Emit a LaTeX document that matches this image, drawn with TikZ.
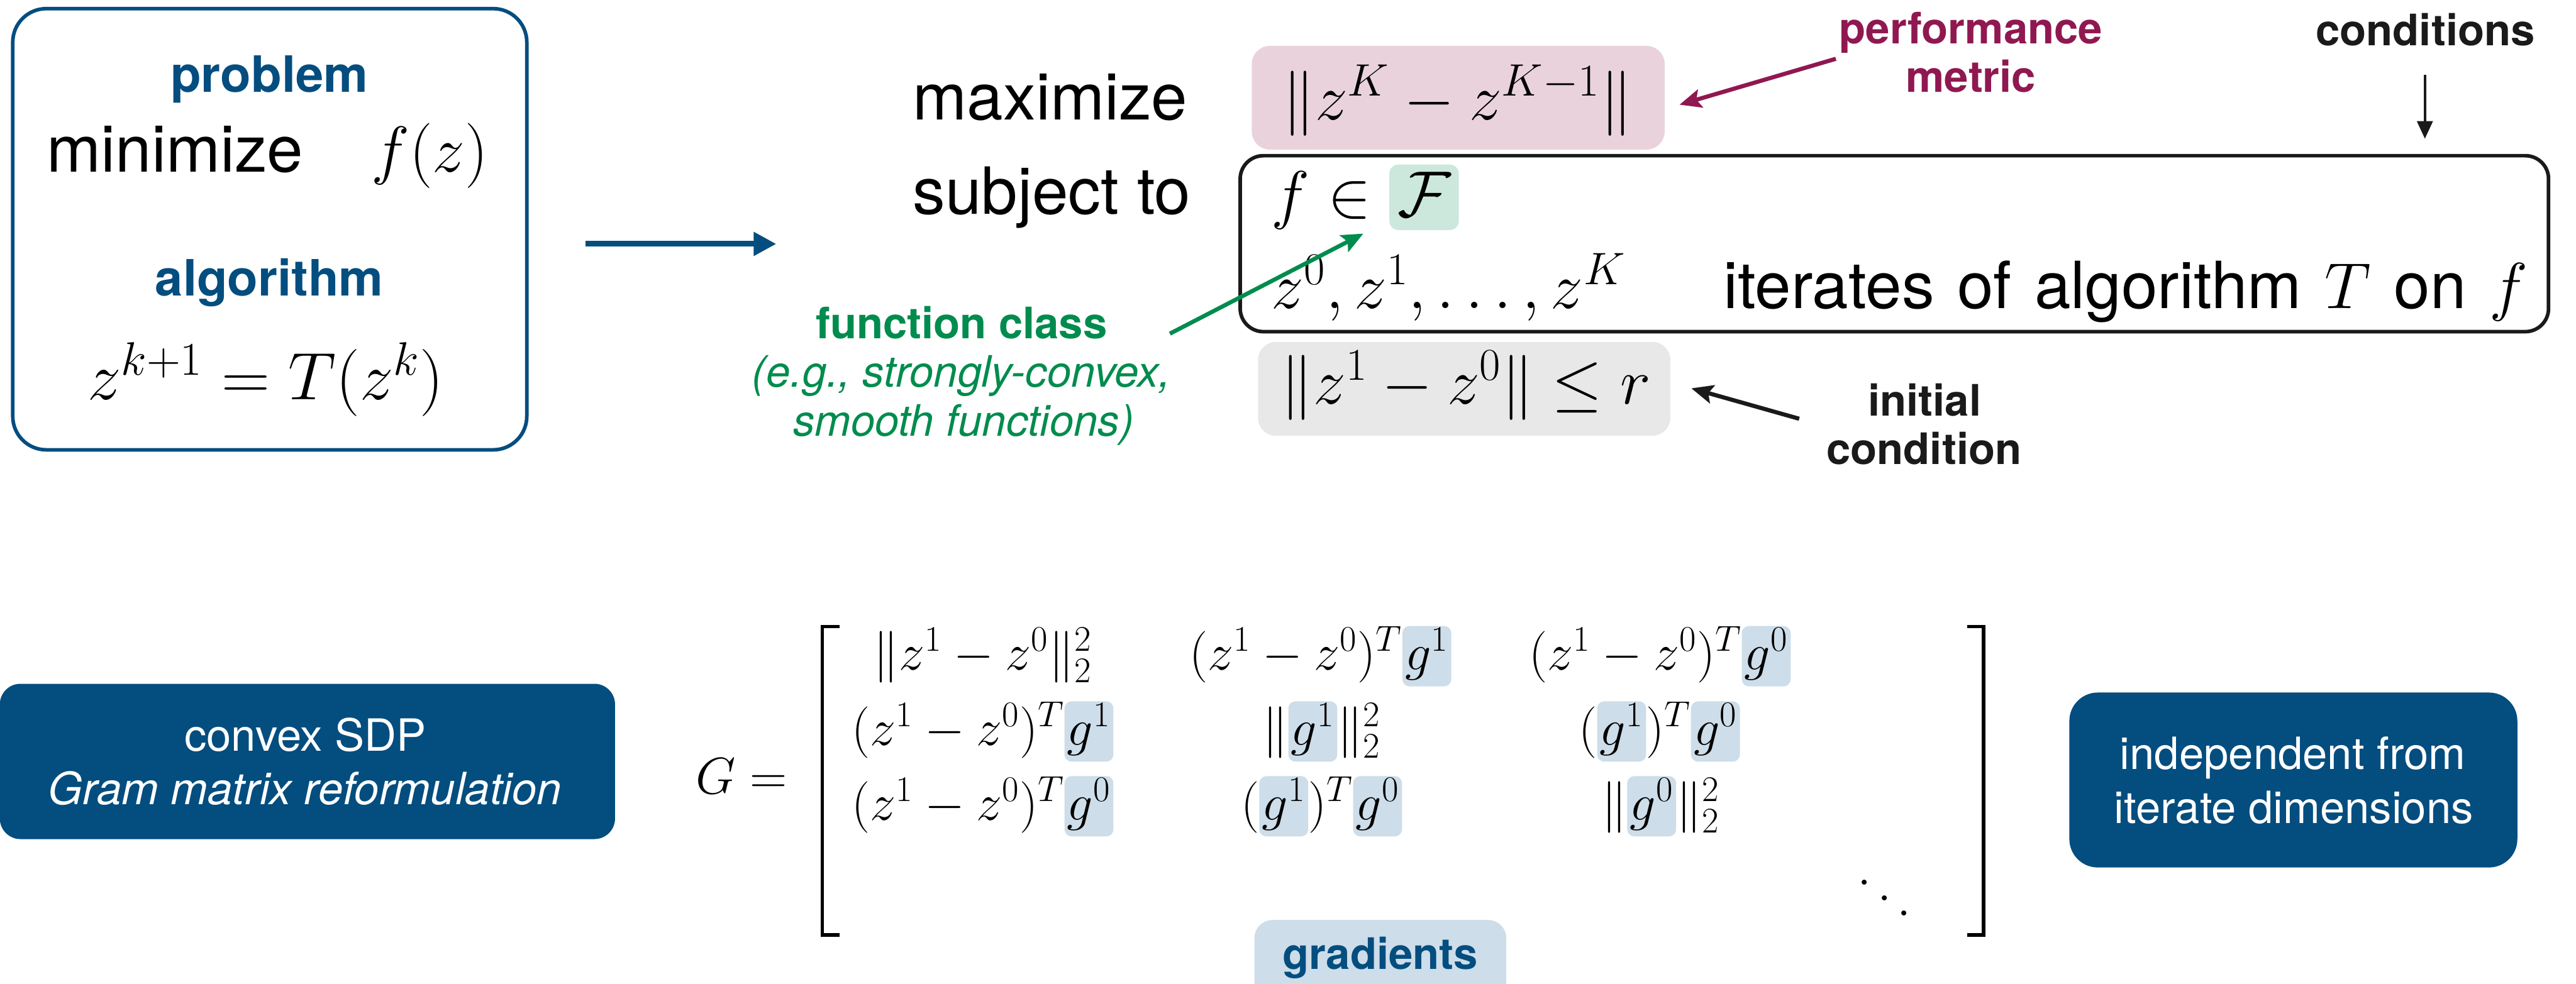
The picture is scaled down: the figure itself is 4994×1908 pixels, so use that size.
\RequirePackage{fix-cm}
\documentclass[tikz,border=0pt]{standalone}
\usepackage[no-math]{fontspec}
\setmainfont{TeX Gyre Heros}
\usetikzlibrary{arrows.meta}
\definecolor{myblue}{RGB}{4,77,127}
\definecolor{mymag}{RGB}{144,24,80}
\definecolor{mygreen}{RGB}{0,140,78}
\definecolor{blk}{RGB}{26,26,26}
\definecolor{pinkfill}{RGB}{234,210,220}
\definecolor{greenfill}{RGB}{204,232,220}
\definecolor{grayfill}{RGB}{232,232,232}
\definecolor{gradfill}{RGB}{205,221,233}
\newcommand\fBig{\fontsize{35.85pt}{43pt}\selectfont}
\newcommand\fAlg{\fontsize{37pt}{44pt}\selectfont}
\newcommand\fHead{\fontsize{27.6pt}{33pt}\selectfont}
\newcommand\fLab{\fontsize{23.9pt}{26.75pt}\selectfont}
\newcommand\fMat{\fontsize{28.45pt}{34pt}\selectfont}
\newcommand\fBox{\fontsize{24.5pt}{29.6pt}\selectfont}
\newcommand\wsp{\spaceskip=0.355em\relax}
\newcommand{\mydots}{\mathinner{\mkern1mu\raisebox{0.7em}{$.$}\mkern2mu\raisebox{0.4em}{$.$}\mkern2mu\raisebox{0.1em}{$.$}\mkern1mu}}
\newcommand{\hlg}[1]{\tikz[baseline=(hlx.base)]{\node[fill=gradfill, draw=none, rounded corners=4pt, inner xsep=1.5pt, inner ysep=0pt, outer sep=0pt, text height=24.2pt, text depth=9.1pt, anchor=base, text=black](hlx) at (0,0) {$#1$};}}
\newcommand{\hlF}[1]{\tikz[baseline=(hlf.base)]{\node[fill=greenfill, draw=none, rounded corners=5pt, inner xsep=4.5pt, inner ysep=0pt, outer sep=0pt, text height=28.7pt, text depth=7.4pt, anchor=base, text=black](hlf) at (0,0) {$#1$};}}
\begin{document}
\begin{tikzpicture}[x=0.01cm,y=-0.01cm,
  lbl/.style={inner sep=0pt, outer sep=0pt, anchor=base},
  lblw/.style={inner sep=0pt, outer sep=0pt, anchor=base west},
  bigt/.style={font=\fBig, text=black},
  tag/.style={font=\fLab\bfseries},
  boxt/.style={font=\fBox, text=white},
  mat/.style={font=\fMat, text=black},
  fillbox/.style={inner sep=0pt, outer sep=0pt},
  callout/.style={line width=0.08cm, -{Stealth[length=0.42cm,width=0.36cm,inset=0.08cm]}},
]
\useasboundingbox (0,0) rectangle (4994,1908);
\clip (0,0) rectangle (4994,1908);

% ---------------- problem / algorithm box
\node[fillbox, draw=myblue, line width=0.07cm, rounded corners=0.65cm, minimum width=9.96cm, minimum height=8.55cm] (probbox) at (523,444.5) {};
\node[lbl, font=\fHead\bfseries, text=myblue] (tprob) at (522,179) {problem};
\node[lblw, bigt] (tmin) at (91,333) {minimize};
\node[lbl, bigt] (tfz) at (833,333) {$f(z)$};
\node[lbl, font=\fHead\bfseries, text=myblue] (talg) at (522,574) {algorithm};
\node[lbl, font=\fAlg] (titer) at (515,775) {$z^{k+1} = T(z^k)$};

\coordinate (a1) at (1135,473);
\coordinate (a2) at (1505,473);
\draw[myblue, line width=0.11cm, -{Triangle[length=0.44cm,width=0.44cm]}] (a1) -- (a2);

% ---------------- formulation
\node[fillbox, fill=pinkfill, rounded corners=0.35cm, minimum width=8cm, minimum height=2.01cm] (pbox) at (2827,189.5) {};
\node[fillbox, fill=grayfill, rounded corners=0.35cm, minimum width=7.99cm, minimum height=1.82cm] (icbox) at (2838.5,754) {};
\node[fillbox, draw=blk, line width=0.07cm, rounded corners=0.45cm, minimum width=25.35cm, minimum height=3.41cm] (cbox) at (3672.5,472.5) {};

\node[lblw, bigt] (tmax) at (1770,232) {maximize};
\node[lblw, bigt] (tsub) at (1770,415) {subject to};
\node[lbl, bigt] (perf) at (2826,232) {$\|z^K - z^{K-1}\|$};
\node[lblw, bigt] (fin) at (2465,420) {$f \in \hlF{\mathcal{F}}$};
\node[lblw, bigt] (zs) at (2465,598) {$z^0, z^1, \ldots, z^K$};
\node[lblw, bigt, font=\fBig\wsp] (itt) at (3341,598) {iterates of algorithm $T$ on $f$};
\node[lbl, bigt] (ic) at (2842,783) {$\|z^1 - z^0\| \le r$};

% performance metric
\node[lbl, tag, text=mymag] (tperf1) at (3821,85) {performance};
\node[lbl, tag, text=mymag] (tperf2) at (3821,179) {metric};
\coordinate (pm1) at (3559,114);
\coordinate (pm2) at (3256,203);
\draw[callout, mymag] (pm1) -- (pm2);

% conditions
\node[lbl, tag, text=blk] (tcond) at (4702,88) {conditions};
\coordinate (c1) at (4701,145);
\coordinate (c2) at (4701,269);
\draw[blk, line width=0.05cm, -{Triangle[length=0.34cm,width=0.3cm]}] (c1) -- (c2);

% function class
\node[lbl, tag, text=mygreen] (tfc1) at (1864,657) {function class};
\node[lbl, font=\fLab\itshape, text=mygreen] (tfc2) at (1864,750) {(e.g., strongly-convex,};
\node[lbl, font=\fLab\itshape, text=mygreen] (tfc3) at (1868,845) {smooth functions)};
\coordinate (fc1) at (2268,647);
\coordinate (fc2) at (2643,453);
\draw[callout, mygreen] (fc1) -- (fc2);

% initial condition
\node[lbl, tag, text=blk] (tini1) at (3731,806) {initial};
\node[lbl, tag, text=blk] (tini2) at (3730,900) {condition};
\coordinate (ic1) at (3488,812);
\coordinate (ic2) at (3279,753);
\draw[callout, blk] (ic1) -- (ic2);

% ---------------- bottom
\node[fillbox, fill=myblue, rounded corners=0.4cm, minimum width=11.92cm, minimum height=3.01cm] (sdp) at (596,1476.5) {};
\node[lbl, boxt] (tsdp1) at (592,1456) {convex SDP};
\node[lbl, boxt, font=\fBox\itshape] (tsdp2) at (591,1560) {Gram matrix reformulation};

\node[fillbox, fill=myblue, rounded corners=0.55cm, minimum width=8.68cm, minimum height=3.39cm] (indep) at (4446,1512.5) {};
\node[lbl, boxt] (tind1) at (4445,1492) {independent from};
\node[lbl, boxt] (tind2) at (4447,1596) {iterate dimensions};

\node[fillbox, fill=gradfill, rounded corners=0.35cm, minimum width=4.88cm, minimum height=1.9cm, anchor=north] (gbox) at (2676,1784) {};
\node[lbl, tag, text=myblue] (tgrad) at (2676,1880) {gradients};

% matrix
\node[inner sep=0pt, outer sep=0pt, anchor=base east, mat] (tG) at (1526,1539) {$G =$};
\draw[black, line width=0.07cm] (1628,1215) -- (1594,1215) -- (1594,1813) -- (1628,1813);
\draw[black, line width=0.07cm] (3814,1215) -- (3845,1215) -- (3845,1813) -- (3814,1813);

\node[lbl, mat] (m11) at (1905,1299) {$\|z^1 - z^0\|_2^2$};
\node[lbl, mat] (m12) at (2560,1299) {$(z^1 - z^0)^T\hlg{g^1}$};
\node[lbl, mat] (m13) at (3218,1299) {$(z^1 - z^0)^T\hlg{g^0}$};
\node[lbl, mat] (m21) at (1905,1445) {$(z^1 - z^0)^T\hlg{g^1}$};
\node[lbl, mat] (m22) at (2562,1445) {$\|\hlg{g^1}\|_2^2$};
\node[lbl, mat] (m23) at (3217,1445) {$(\hlg{g^1})^T\hlg{g^0}$};
\node[lbl, mat] (m31) at (1905,1590) {$(z^1 - z^0)^T\hlg{g^0}$};
\node[lbl, mat] (m32) at (2562,1590) {$(\hlg{g^1})^T\hlg{g^0}$};
\node[lbl, mat] (m33) at (3219,1590) {$\|\hlg{g^0}\|_2^2$};
\node[lblw, mat] (mdots) at (3596,1786) {$\mydots$};
\end{tikzpicture}
\end{document}
